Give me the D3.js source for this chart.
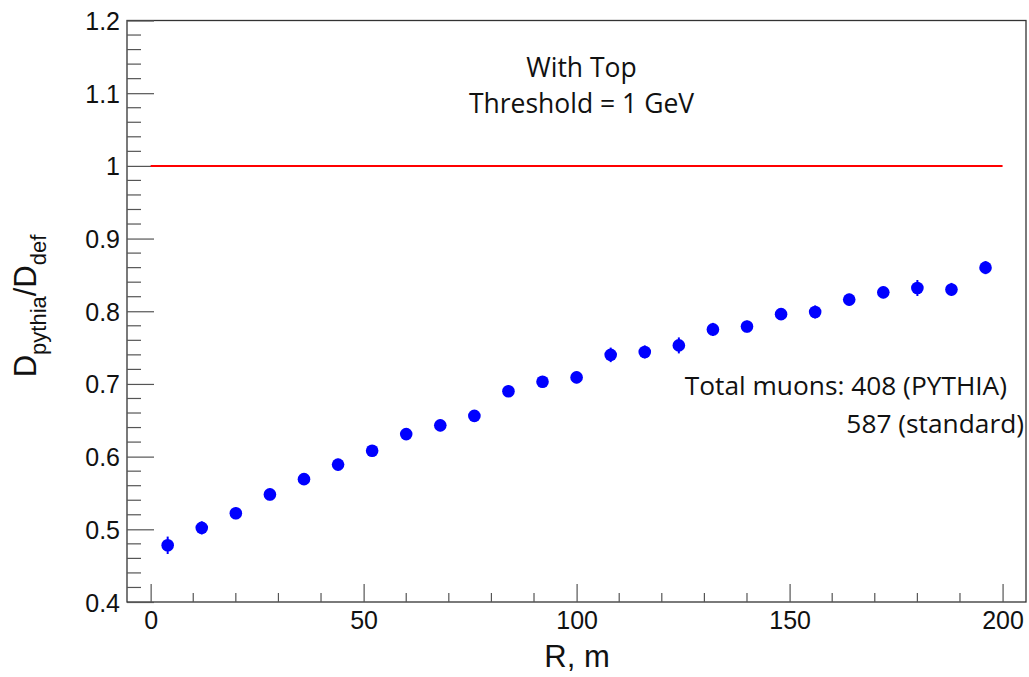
<!DOCTYPE html>
<html>
<head>
<meta charset="utf-8">
<script src="https://cdn.jsdelivr.net/npm/d3@7"></script>
<style>
  html, body { margin: 0; padding: 0; background: #fff; }
  svg { display: block; }
</style>
</head>
<body>
<svg id="chart" width="1029" height="677"></svg>
<script>
// ---- data ----
const radius = [4, 12, 20, 28, 36, 44, 52, 60, 68, 76, 84, 92, 100, 108, 116, 124, 132, 140, 148, 156, 164, 172, 180, 188, 196];
const ratio = [0.478, 0.502, 0.522, 0.548, 0.569, 0.589, 0.608, 0.631, 0.643, 0.656, 0.690, 0.703, 0.709, 0.740, 0.744, 0.753, 0.775, 0.779, 0.796, 0.799, 0.816, 0.826, 0.832, 0.830, 0.860];
const ratioErr = [0.012, 0.009, 0.008, 0.008, 0.008, 0.008, 0.008, 0.008, 0.008, 0.008, 0.008, 0.008, 0.008, 0.010, 0.009, 0.011, 0.009, 0.008, 0.008, 0.009, 0.008, 0.008, 0.011, 0.009, 0.009];
const xMajorTicks = [0, 50, 100, 150, 200];
const yMajorTicks = [0.4, 0.5, 0.6, 0.7, 0.8, 0.9, 1.0, 1.1, 1.2];
const yTickLabels = ["0.4", "0.5", "0.6", "0.7", "0.8", "0.9", "1", "1.1", "1.2"];
const referenceLevel = 1;
const referenceRange = [0, 200];
const titleLines = ["With Top", "Threshold = 1 GeV"];
const noteLines = ["Total muons: 408 (PYTHIA)", "587 (standard)"];

// ---- layout ----
const svg = d3.select("#chart");
const L = 127, R = 1026, T = 20.5, B = 602;
const x = d3.scaleLinear().domain([-5.55, 205.5]).range([L, R]);
const y = d3.scaleLinear().domain([0.4, 1.2]).range([B, T]);

const tickColor = "#555";
const tickFont = "'Liberation Sans', Arial, Helvetica, sans-serif";
const textFont = "'Open Sans', 'Noto Sans', sans-serif";

// frame
svg.append("rect")
  .attr("x", L).attr("y", T).attr("width", R - L).attr("height", B - T)
  .attr("fill", "none").attr("stroke", "#333").attr("stroke-width", 1.3);

// x axis (ticks pointing up, inside)
const xMinor = d3.range(0, 201, 10);
const xAxis = d3.axisBottom(x)
  .tickValues(xMajorTicks)
  .tickSize(-18)
  .tickPadding(27)
  .tickFormat(d3.format("d"));
const gx = svg.append("g").attr("transform", `translate(0,${B})`).call(xAxis);
gx.select(".domain").remove();
gx.selectAll(".tick line").attr("stroke", tickColor).attr("stroke-width", 1.2);
gx.selectAll(".tick text")
  .attr("font-family", tickFont).attr("font-size", 25).attr("fill", "#111")
  .attr("dy", "0");
svg.append("g").selectAll("line")
  .data(xMinor.filter(v => !xMajorTicks.includes(v)))
  .join("line")
  .attr("x1", d => x(d)).attr("x2", d => x(d))
  .attr("y1", B).attr("y2", B - 9)
  .attr("stroke", tickColor).attr("stroke-width", 1.2);

// y axis (ticks pointing right, inside)
const yMinor = d3.range(0, 41).map(i => 0.4 + i * 0.02);
const yAxis = d3.axisLeft(y)
  .tickValues(yMajorTicks)
  .tickSize(-27)
  .tickPadding(7)
  .tickFormat((d, i) => yTickLabels[i]);
const gy = svg.append("g").attr("transform", `translate(${L},0)`).call(yAxis);
gy.select(".domain").remove();
gy.selectAll(".tick line").attr("stroke", tickColor).attr("stroke-width", 1.2);
gy.selectAll(".tick text")
  .attr("font-family", tickFont).attr("font-size", 25).attr("fill", "#111")
  .attr("dy", "0.36em");
svg.append("g").selectAll("line")
  .data(yMinor.filter((v, i) => i % 5 !== 0))
  .join("line")
  .attr("x1", L).attr("x2", L + 14)
  .attr("y1", d => y(d)).attr("y2", d => y(d))
  .attr("stroke", tickColor).attr("stroke-width", 1.2);

// reference line
svg.append("line")
  .attr("x1", x(referenceRange[0])).attr("x2", x(referenceRange[1]))
  .attr("y1", y(referenceLevel)).attr("y2", y(referenceLevel))
  .attr("stroke", "#ff0000").attr("stroke-width", 2);

// data points with error bars
const pts = radius.map((r, i) => ({ r, v: ratio[i], e: ratioErr[i] }));
svg.append("g").selectAll("line")
  .data(pts).join("line")
  .attr("x1", d => x(d.r)).attr("x2", d => x(d.r))
  .attr("y1", d => y(d.v - d.e)).attr("y2", d => y(d.v + d.e))
  .attr("stroke", "#0000ff").attr("stroke-width", 2);
svg.append("g").selectAll("circle")
  .data(pts).join("circle")
  .attr("cx", d => x(d.r)).attr("cy", d => y(d.v))
  .attr("r", 6.3).attr("fill", "#0000ff");

// axis titles
svg.append("text")
  .attr("x", 577).attr("y", 667)
  .attr("text-anchor", "middle")
  .attr("font-family", tickFont).attr("font-size", 31).attr("fill", "#111")
  .text("R, m");

const yl = svg.append("text")
  .attr("transform", "translate(36,306) rotate(-90)")
  .attr("text-anchor", "middle")
  .attr("font-family", tickFont).attr("font-size", 31).attr("fill", "#111");
yl.append("tspan").text("D");
yl.append("tspan").attr("font-size", 22).attr("dy", 10).text("pythia");
yl.append("tspan").attr("dy", -10).text("/D");
yl.append("tspan").attr("font-size", 22).attr("dy", 10).text("def");

// title text
svg.append("g").selectAll("text")
  .data(titleLines).join("text")
  .attr("x", 581.5).attr("y", (d, i) => 77.3 + i * 36)
  .attr("text-anchor", "middle")
  .attr("font-family", textFont).attr("font-size", 26.5).attr("fill", "#111")
  .text(d => d);

// note
svg.append("g").selectAll("text")
  .data(noteLines).join("text")
  .attr("x", (d, i) => i === 0 ? 1007 : 1024)
  .attr("y", (d, i) => 395 + i * 38)
  .attr("text-anchor", "end")
  .attr("font-family", textFont).attr("font-size", 26.3).attr("fill", "#111")
  .text(d => d);
</script>
</body>
</html>
